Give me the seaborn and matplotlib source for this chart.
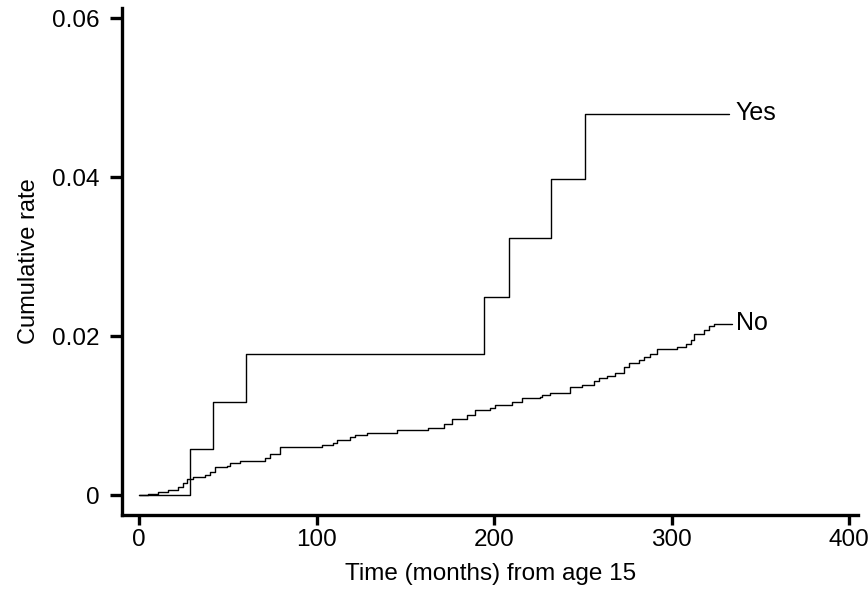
import matplotlib
matplotlib.use("Agg")
import matplotlib.pyplot as plt
import seaborn as sns

# cumulative rate, exposed group ("Yes")
yes_time = [0, 28.7, 41.5, 60.3, 194.0, 208.6, 232.2, 251.4, 332.0]
yes_rate = [0, 0.0058, 0.0117, 0.0177, 0.0249, 0.0324, 0.0398, 0.0480, 0.0480]

# cumulative rate, unexposed group ("No")
no_time = [0, 5.2, 10.9, 16.5, 22.2, 25.0, 26.9, 30.6, 37.2, 40.0, 42.8, 49.4,
           51.3, 57.0, 71.0, 73.8, 79.5, 103.0, 109.5, 111.4, 118.9, 121.8,
           128.3, 145.2, 163.0, 171.5, 176.2, 184.7, 189.4, 197.9, 200.7,
           210.0, 215.6, 226.0, 227.0, 231.7, 242.5, 249.5, 256.0, 258.9,
           263.6, 268.3, 273.0, 275.8, 281.4, 284.2, 288.0, 291.8, 303.0,
           307.8, 310.6, 312.5, 318.0, 320.8, 323.7, 334.0]
no_rate = [0, 0.0002, 0.0004, 0.0006, 0.0010, 0.0015, 0.0020, 0.0023, 0.0025,
           0.0029, 0.0035, 0.0037, 0.0041, 0.0043, 0.0047, 0.0052, 0.0060,
           0.0063, 0.0066, 0.0069, 0.0073, 0.0076, 0.0078, 0.0082, 0.0085,
           0.0090, 0.0096, 0.0101, 0.0107, 0.0109, 0.0114, 0.0117, 0.0122,
           0.0124, 0.0126, 0.0129, 0.0136, 0.0139, 0.0143, 0.0147, 0.0150,
           0.0154, 0.0161, 0.0166, 0.0170, 0.0174, 0.0178, 0.0184, 0.0187,
           0.0190, 0.0195, 0.0203, 0.0208, 0.0213, 0.0215, 0.0215]

xticks = [0, 100, 200, 300, 400]
yticks = [0, 0.02, 0.04, 0.06]
ytick_labels = ["0", "0.02", "0.04", "0.06"]

sns.set_style("ticks")
plt.rcParams['font.family'] = ['Liberation Sans', 'DejaVu Sans']
plt.rcParams['text.color'] = 'black'
plt.rcParams['axes.labelcolor'] = 'black'
plt.rcParams['xtick.color'] = 'black'
plt.rcParams['ytick.color'] = 'black'
plt.rcParams['axes.edgecolor'] = 'black'

fig = plt.figure(figsize=(8.68, 6), dpi=100)
ax = fig.add_axes([0.1406, 0.1417, 0.848, 0.845])

sns.lineplot(x=yes_time, y=yes_rate, drawstyle='steps-post', color='black',
             lw=1.0, ax=ax, estimator=None)
sns.lineplot(x=no_time, y=no_rate, drawstyle='steps-post', color='black',
             lw=1.0, ax=ax, estimator=None)

ax.text(336, 0.0481, "Yes", fontsize=18, va='center', ha='left')
ax.text(336, 0.0217, "No", fontsize=18, va='center', ha='left')

ax.set_xlim(-9.6, 405)
ax.set_ylim(-0.0025, 0.0613)
ax.set_xticks(xticks)
ax.set_yticks(yticks)
ax.set_yticklabels(ytick_labels)

sns.despine(ax=ax)
for side in ['left', 'bottom']:
    ax.spines[side].set_linewidth(2.4)
ax.tick_params(axis='both', width=2.4, labelsize=17.5)
ax.tick_params(axis='y', length=9, pad=7)
ax.tick_params(axis='x', length=7, pad=3)

ax.set_xlabel("Time (months) from age 15", fontsize=17.5, labelpad=9)
ax.set_ylabel("Cumulative rate", fontsize=17, labelpad=9)

plt.savefig("out.png", dpi=100)
